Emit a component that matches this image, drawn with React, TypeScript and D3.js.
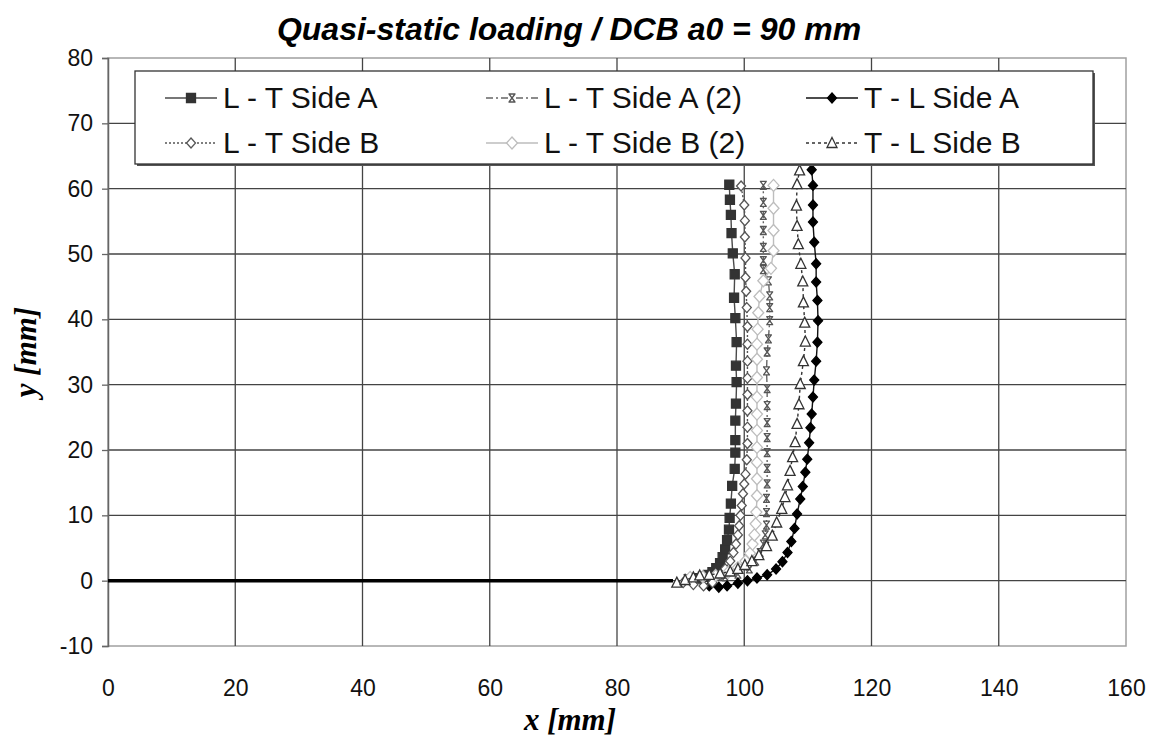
import React, { useRef, useEffect } from "react";
import * as d3 from "d3";

type Pt = [number, number];

const title = "Quasi-static loading / DCB a0 = 90 mm";
const xTicks = [0, 20, 40, 60, 80, 100, 120, 140, 160];
const yTicks = [-10, 0, 10, 20, 30, 40, 50, 60, 70, 80];

// initial crack (a0)
const crack: Pt[] = [[0, 0], [88.8, 0]];

const ltSideA: Pt[] = [
  [92.5, 0.4], [93.5, 0.6], [94.3, 0.9], [95.0, 1.3], [95.6, 1.9], [96.2, 2.7], [96.6, 3.6],
  [97.0, 4.8], [97.3, 6.2], [97.6, 7.8], [97.7, 9.6], [97.9, 11.8], [98.1, 14.5], [98.5, 17.1],
  [98.6, 19.6], [98.6, 21.5], [98.6, 24.5], [98.7, 27.1], [98.8, 30.4], [98.7, 32.9], [98.8, 36.5],
  [98.6, 40.2], [98.4, 43.3], [98.5, 46.9], [98.2, 50.1], [98.0, 53.2], [97.9, 56.0], [97.75, 58.3],
  [97.65, 60.6],
];

const ltSideA2: Pt[] = [
  [91.0, 0.3], [93.0, 0.2], [95.0, 0.3], [97.0, 0.6], [99.0, 1.0], [100.8, 1.8], [101.8, 3.0],
  [102.5, 4.3], [103.0, 5.6], [103.3, 7.0], [103.5, 8.5], [103.5, 10.4], [103.5, 12.6], [103.6, 14.8],
  [103.6, 17.2], [103.6, 19.6], [103.6, 21.9], [103.6, 24.2], [103.6, 26.8], [103.6, 29.4],
  [103.5, 32.1], [103.6, 35.0], [103.8, 37.0], [104.0, 39.8], [104.0, 41.8], [104.0, 43.6],
  [103.8, 45.9], [103.0, 47.6], [103.0, 49.0], [103.0, 51.0], [103.0, 53.6], [103.0, 55.9],
  [103.0, 57.9], [103.0, 60.5],
];

const tlSideA: Pt[] = [
  [94.5, -0.8], [96.0, -1.0], [97.3, -0.8], [99.0, -0.4], [100.5, 0.0], [102.0, 0.4], [103.6, 0.9],
  [105.0, 1.8], [106.0, 2.9], [106.8, 4.3], [107.4, 6.0], [107.9, 8.0], [108.3, 10.2], [108.8, 12.5],
  [109.2, 14.4], [109.6, 16.6], [109.9, 18.6], [110.2, 21.1], [110.4, 23.4], [110.6, 25.5],
  [110.8, 28.1], [111.0, 30.7], [111.3, 33.6], [111.5, 36.5], [111.6, 39.8], [111.5, 42.9],
  [111.3, 45.7], [111.3, 48.5], [111.0, 51.8], [110.8, 54.9], [110.8, 57.5], [110.8, 60.5],
  [110.6, 62.9],
];

const ltSideB: Pt[] = [
  [90.4, -0.3], [92.0, -0.6], [93.6, -0.8], [95.0, -0.3], [96.2, 0.8], [97.0, 1.8], [97.8, 3.0],
  [98.3, 4.3], [98.7, 5.6], [99.0, 7.0], [99.2, 8.4], [99.4, 10.0], [99.6, 11.5], [99.8, 13.3],
  [100.0, 14.8], [100.2, 16.3], [100.4, 18.5], [100.5, 21.0], [100.5, 23.5], [100.5, 26.0],
  [100.5, 28.5], [100.5, 31.0], [100.5, 33.6], [100.5, 36.2], [100.5, 38.9], [100.4, 41.8],
  [100.3, 44.3], [100.2, 46.4], [100.2, 49.4], [100.1, 52.6], [100.1, 55.1], [100.0, 57.5],
  [99.5, 60.4],
];

const ltSideB2: Pt[] = [
  [91.5, 0.5], [93.5, 0.6], [95.5, 0.8], [97.5, 1.3], [99.0, 2.0], [100.2, 3.0], [100.9, 4.2],
  [101.3, 5.6], [101.6, 7.0], [101.8, 8.7], [101.9, 10.5], [102.0, 13.0], [102.0, 15.6],
  [102.0, 18.1], [102.0, 20.4], [102.0, 23.0], [102.0, 25.5], [102.0, 28.1], [102.0, 31.1],
  [102.0, 33.9], [102.0, 36.2], [102.1, 38.5], [102.2, 41.0], [102.4, 43.5], [103.0, 45.9],
  [104.2, 47.8], [104.6, 50.5], [104.6, 53.6], [104.6, 57.0], [104.6, 60.5],
];

const tlSideB: Pt[] = [
  [89.4, -0.3], [90.7, 0.1], [92.0, 0.5], [93.0, 0.8], [94.5, 0.9], [96.2, 1.1], [97.8, 1.4],
  [99.0, 1.8], [100.1, 2.4], [101.2, 3.0], [102.3, 3.9], [103.5, 5.3], [104.4, 6.9], [105.1, 8.9],
  [105.9, 11.0], [106.4, 12.8], [106.8, 14.6], [107.2, 16.8], [107.6, 18.9], [108.0, 21.2],
  [108.3, 24.0], [108.6, 27.0], [108.8, 30.1], [109.3, 33.6], [109.6, 36.6], [109.5, 39.5],
  [109.3, 42.6], [109.2, 45.8], [108.9, 48.5], [108.5, 51.5], [108.3, 54.3], [108.2, 57.4],
  [108.3, 60.7], [108.7, 62.8],
];

const series = [
  { name: "L - T Side A", data: ltSideA, line: "#4a4a4a", dash: null, marker: "square", fill: "#333", stroke: "#333", col: 0, row: 0 },
  { name: "L - T Side A (2)", data: ltSideA2, line: "#666", dash: "7,3,2,3", marker: "xbar", fill: "none", stroke: "#555", col: 1, row: 0 },
  { name: "T - L Side A", data: tlSideA, line: "#111", dash: null, marker: "diamond", fill: "#000", stroke: "#000", col: 2, row: 0 },
  { name: "L - T Side B", data: ltSideB, line: "#555", dash: "2,2", marker: "diamond", fill: "#fff", stroke: "#555", col: 0, row: 1 },
  { name: "L - T Side B (2)", data: ltSideB2, line: "#bdbdbd", dash: null, marker: "bigdiamond", fill: "#fff", stroke: "#bdbdbd", col: 1, row: 1 },
  { name: "T - L Side B", data: tlSideB, line: "#333", dash: "3,3", marker: "triangle", fill: "#fff", stroke: "#333", col: 2, row: 1 },
];

const markerPath = (kind: string) => {
  switch (kind) {
    case "square": return "M-4.5,-4.5H4.5V4.5H-4.5Z";
    case "diamond": return "M0,-5L4.5,0L0,5L-4.5,0Z";
    case "bigdiamond": return "M0,-6L5.5,0L0,6L-5.5,0Z";
    case "triangle": return "M0,-5.5L5,4.5H-5Z";
    default: return "M-3.5,-4H3.5M-3.5,4H3.5M-3,-4L3,4M3,-4L-3,4";
  }
};

const sans = "Arial, 'Liberation Sans', sans-serif";
const serif = "'Times New Roman', 'Liberation Serif', serif";

const App = () => {
  const ref = useRef<SVGSVGElement>(null);

  useEffect(() => {
    const width = 1158;
    const height = 747;
    const m = { left: 108, right: 1126, top: 58, bottom: 646 };

    const svg = d3.select(ref.current);
    svg.selectAll("*").remove();
    svg.attr("width", width).attr("height", height);

    svg.append("rect").attr("width", width).attr("height", height).attr("fill", "#fff");

    const x = d3.scaleLinear().domain([0, 160]).range([m.left, m.right]);
    const y = d3.scaleLinear().domain([-10, 80]).range([m.bottom, m.top]);

    // plot area border
    svg.append("rect")
      .attr("x", m.left).attr("y", m.top)
      .attr("width", m.right - m.left).attr("height", m.bottom - m.top)
      .attr("fill", "none").attr("stroke", "#a0a0a0").attr("stroke-width", 1.5);

    // grid
    svg.append("g").selectAll("line").data(xTicks.slice(1, -1)).enter().append("line")
      .attr("x1", (d) => x(d)).attr("x2", (d) => x(d))
      .attr("y1", m.top).attr("y2", m.bottom)
      .attr("stroke", "#444").attr("stroke-width", 1.3);
    svg.append("g").selectAll("line").data(yTicks.slice(1, -1)).enter().append("line")
      .attr("x1", m.left).attr("x2", m.right)
      .attr("y1", (d) => y(d)).attr("y2", (d) => y(d))
      .attr("stroke", "#444").attr("stroke-width", 1.3);

    // y axis
    const yAxis = svg.append("g")
      .attr("transform", `translate(${m.left},0)`)
      .call(d3.axisLeft(y).tickValues(yTicks).tickFormat((d) => String(d)).tickSize(6).tickPadding(9));
    yAxis.select(".domain").attr("stroke", "#666").attr("stroke-width", 1.5);
    yAxis.selectAll(".tick line").attr("stroke", "#666").attr("stroke-width", 1.3);
    yAxis.selectAll("text").attr("font-family", sans).attr("font-size", 23).attr("fill", "#111");

    // x axis (labels sit below the bottom edge)
    const xAxis = svg.append("g")
      .attr("transform", `translate(0,${m.bottom})`)
      .call(d3.axisBottom(x).tickValues(xTicks).tickFormat((d) => String(d)).tickSize(0).tickPadding(34));
    xAxis.select(".domain").remove();
    xAxis.selectAll("text").attr("font-family", sans).attr("font-size", 23).attr("fill", "#111");

    // crack line
    const line = d3.line<Pt>().x((d) => x(d[0])).y((d) => y(d[1]));
    svg.append("path").attr("d", line(crack)).attr("fill", "none")
      .attr("stroke", "#000").attr("stroke-width", 3.5);

    series.forEach((s) => {
      const g = svg.append("g");
      g.append("path").attr("d", line(s.data)).attr("fill", "none")
        .attr("stroke", s.line).attr("stroke-width", 1.4)
        .attr("stroke-dasharray", s.dash);
      g.selectAll("path.mk").data(s.data).enter().append("path")
        .attr("class", "mk")
        .attr("transform", (d) => `translate(${x(d[0])},${y(d[1])})`)
        .attr("d", markerPath(s.marker))
        .attr("fill", s.fill).attr("stroke", s.stroke).attr("stroke-width", 1.3);
    });

    // legend
    const lg = svg.append("g");
    lg.append("rect").attr("x", 137).attr("y", 73).attr("width", 958).attr("height", 93).attr("fill", "#555");
    lg.append("rect").attr("x", 135).attr("y", 71).attr("width", 958).attr("height", 93)
      .attr("fill", "#fff").attr("stroke", "#333").attr("stroke-width", 1.3);
    const colX = [165, 486, 806];
    const rowY = [98, 143];
    series.forEach((s) => {
      const lx = colX[s.col];
      const ly = rowY[s.row];
      lg.append("line").attr("x1", lx).attr("x2", lx + 52).attr("y1", ly).attr("y2", ly)
        .attr("stroke", s.line).attr("stroke-width", 1.6).attr("stroke-dasharray", s.dash);
      lg.append("path").attr("transform", `translate(${lx + 26},${ly})`)
        .attr("d", markerPath(s.marker)).attr("fill", s.fill).attr("stroke", s.stroke).attr("stroke-width", 1.3);
      lg.append("text").attr("x", lx + 58).attr("y", ly + 10)
        .attr("font-family", sans).attr("font-size", 30)
        .attr("fill", "#111").text(s.name);
    });

    // titles
    svg.append("text").attr("x", 569).attr("y", 40).attr("text-anchor", "middle")
      .attr("font-family", sans).attr("font-size", 32)
      .attr("font-weight", "bold").attr("font-style", "italic").text(title);
    svg.append("text").attr("x", 570).attr("y", 730).attr("text-anchor", "middle")
      .attr("font-family", serif).attr("font-size", 31)
      .attr("font-weight", "bold").attr("font-style", "italic").text("x [mm]");
    svg.append("text").attr("transform", "translate(36,352) rotate(-90)").attr("text-anchor", "middle")
      .attr("font-family", serif).attr("font-size", 31)
      .attr("font-weight", "bold").attr("font-style", "italic").text("y [mm]");
  }, []);

  return <svg ref={ref} style={{ display: "block", margin: "-8px" }}></svg>;
};

export default App;
